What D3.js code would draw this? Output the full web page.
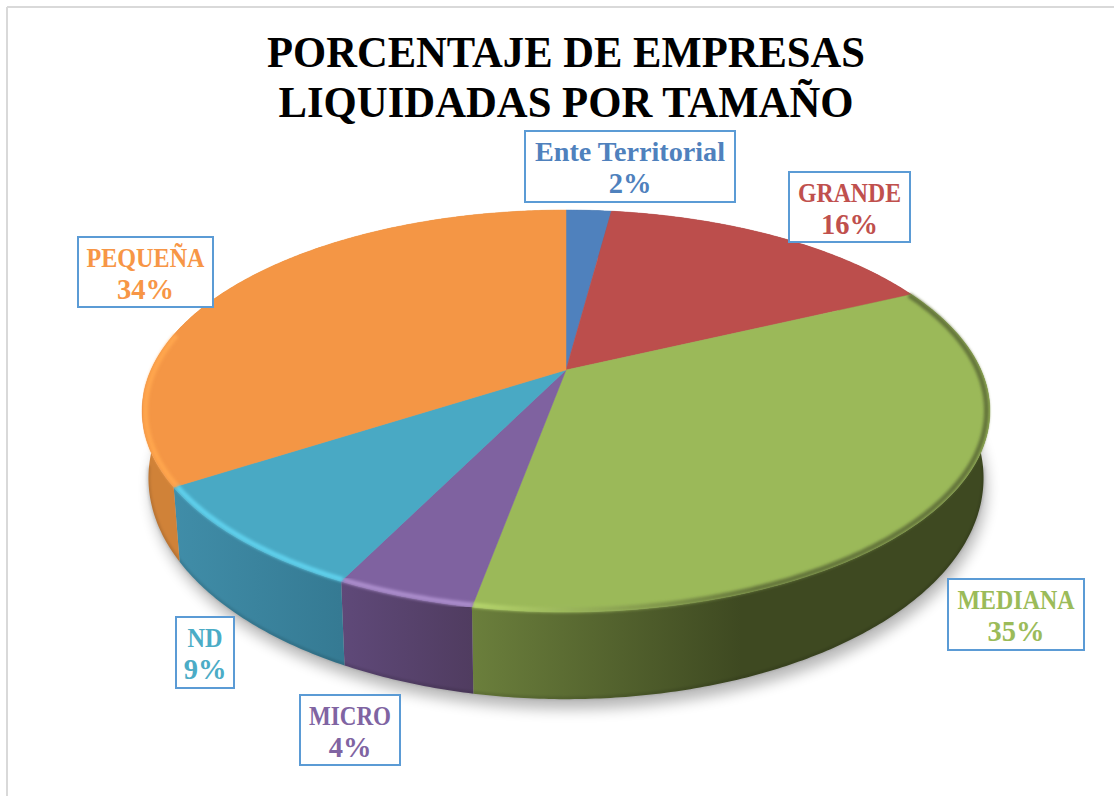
<!DOCTYPE html>
<html>
<head>
<meta charset="utf-8">
<script src="https://cdn.jsdelivr.net/npm/d3@7"></script>
<style>
html, body { margin: 0; padding: 0; background: #fff; }
svg { display: block; }
</style>
</head>
<body>
<div id="chart"></div>
<script>
// data, unrounded shares estimated from the slice edges
var categories = ["Ente Territorial", "GRANDE", "MEDIANA", "MICRO", "ND", "PEQUEÑA"];
var percents = [2.1, 15.9, 34.9, 4.4, 8.6, 34.1];
var titleLines = ["PORCENTAJE DE EMPRESAS", "LIQUIDADAS POR TAMAÑO"];

// colours, same order as categories
var topColors = ["#4f81bd", "#bc4e4c", "#9bb959", "#7f62a0", "#49a9c4", "#f49645"];
var textColors = ["#4f81bd", "#c0504d", "#9bbb59", "#8064a2", "#4bacc6", "#f79646"];
var sideLeft = ["#3c6290", "#8f3b39", "#6b7f3c", "#5f4979", "#408da8", "#d08238"];
var sideRight = ["#3c6290", "#8f3b39", "#3e4921", "#503c60", "#357a93", "#d08238"];
var rimLeft = ["#4f81bd", "#bc4e4c", "#b6d66c", "#ab8dcc", "#5fd0ec", "#ffa64e"];
var rimRight = ["#4f81bd", "#bc4e4c", "#64753a", "#ab8dcc", "#5fd0ec", "#ffa64e"];

// label boxes: left, top, right, bottom
var labelBoxes = [
	[525, 131, 735, 202],
	[789, 172, 910, 242],
	[948, 579, 1084, 650],
	[300, 695, 400, 765],
	[176, 617, 234, 688],
	[78, 237, 213, 307]
];
// the original face is narrower in capitals than Liberation Serif, so fit the widths
var labelTextWidths = [190, 103, 117, 82, 35, 118];
var titleTextWidths = [598, 575];

var width = 1114, height = 796;

var svg = d3.select("#chart").append("svg")
	.attr("width", width)
	.attr("height", height);

var defs = svg.append("defs");
defs.append("filter").attr("id", "shadowBlur")
	.attr("x", "-10%").attr("y", "-10%").attr("width", "120%").attr("height", "120%")
	.append("feGaussianBlur").attr("stdDeviation", 7);
defs.append("filter").attr("id", "rimBlur")
	.attr("x", "-5%").attr("y", "-5%").attr("width", "110%").attr("height", "110%")
	.append("feGaussianBlur").attr("stdDeviation", 1.6);

// chart frame, only top and left show
svg.append("line").attr("x1", 7).attr("y1", 7).attr("x2", width).attr("y2", 7)
	.attr("stroke", "#d9d9d9").attr("stroke-width", 2);
svg.append("line").attr("x1", 7).attr("y1", 7).attr("x2", 7).attr("y2", height)
	.attr("stroke", "#d9d9d9").attr("stroke-width", 2);

// title
svg.append("g").selectAll("text")
	.data(titleLines)
	.enter().append("text")
	.attr("x", 566)
	.attr("y", function (d, i) { return 67 + i * 50; })
	.attr("text-anchor", "middle")
	.attr("font-family", "'Liberation Serif', serif")
	.attr("font-weight", "bold")
	.attr("font-size", 45)
	.attr("textLength", function (d, i) { return titleTextWidths[i]; })
	.attr("lengthAdjust", "spacingAndGlyphs")
	.attr("fill", "#000")
	.text(function (d) { return d; });

// perspective projection of the disc, a = clockwise angle from the back of the pie
var cx = 566, cy = 370, rx = 415, ry = 192.6, persp = 0.204;

function projectTop(a) {
	var w = 1 + persp * Math.cos(a);
	return [cx + rx * Math.sin(a) / w, cy - ry * Math.cos(a) / w];
}
function projectBottom(a) {
	var p = projectTop(a);
	return [cx + (p[0] - cx) * 0.985, cy + 63 + (p[1] - cy) * 1.1];
}
function arcPoints(a0, a1, project) {
	var n = Math.max(2, Math.ceil((a1 - a0) / 0.01));
	return d3.range(n + 1).map(function (i) {
		return project(a0 + (a1 - a0) * i / n);
	});
}

var pie = d3.pie().sort(null).value(function (d) { return d; }).startAngle(0).endAngle(2 * Math.PI);
var slices = pie(percents);
var line = d3.line();

// soft shadow under the disc
svg.append("path")
	.attr("d", line(arcPoints(0, 2 * Math.PI, projectBottom)) + "Z")
	.attr("transform", "translate(3,10)")
	.attr("fill", "#000")
	.attr("opacity", 0.28)
	.attr("filter", "url(#shadowBlur)");

function gradient(id, x0, x1, c0, c1, mid) {
	var g = defs.append("linearGradient").attr("id", id)
		.attr("gradientUnits", "userSpaceOnUse")
		.attr("x1", x0).attr("x2", x1).attr("y1", 0).attr("y2", 0);
	g.append("stop").attr("offset", 0).attr("stop-color", c0);
	g.append("stop").attr("offset", mid).attr("stop-color", c1);
	g.append("stop").attr("offset", 1).attr("stop-color", c1);
}

// side walls
var sides = svg.append("g");
slices.forEach(function (d, i) {
	var top = arcPoints(d.startAngle, d.endAngle, projectTop);
	var bottom = arcPoints(d.startAngle, d.endAngle, projectBottom);
	var xs = top.map(function (p) { return p[0]; });
	// walls run from lit on the left to dark on the right
	gradient("side" + i, d3.min(xs), d3.max(xs), sideLeft[i], sideRight[i], i === 2 ? 0.52 : 1);
	sides.append("path")
		.attr("d", line(top.concat(bottom.reverse())) + "Z")
		.attr("fill", "url(#side" + i + ")");
});

// darker foot along the bottom edge
sides.append("path")
	.attr("d", line(arcPoints(Math.PI * 0.55, Math.PI * 1.45, function (a) {
		var p = projectBottom(a);
		return [p[0], p[1] - 1];
	})))
	.attr("fill", "none")
	.attr("stroke", "#000")
	.attr("stroke-opacity", 0.2)
	.attr("stroke-width", 2)
	.attr("filter", "url(#rimBlur)");

// top faces
var faces = svg.append("g");
slices.forEach(function (d, i) {
	var pts = [[cx, cy]].concat(arcPoints(d.startAngle, d.endAngle, projectTop));
	faces.append("path")
		.attr("d", line(pts) + "Z")
		.attr("fill", topColors[i])
		.attr("stroke", topColors[i])
		.attr("stroke-width", 0.5);
});

// bevel along the rim, stops on the left where the light runs out
var rims = svg.append("g");
slices.forEach(function (d, i) {
	if (i < 2) return;
	var pts = arcPoints(d.startAngle, Math.min(d.endAngle, Math.PI * 1.56), function (a) {
		var p = projectTop(a);
		return [cx + (p[0] - cx) * 0.992, cy + (p[1] - cy) * 0.992];
	});
	var xs = pts.map(function (p) { return p[0]; });
	gradient("rim" + i, d3.min(xs), d3.max(xs), rimLeft[i], rimRight[i], i === 2 ? 0.55 : 1);
	rims.append("path")
		.attr("d", line(pts))
		.attr("fill", "none")
		.attr("stroke", "url(#rim" + i + ")")
		.attr("stroke-width", 5)
		.attr("filter", "url(#rimBlur)");
});

// data labels
var labels = svg.append("g").selectAll("g")
	.data(slices)
	.enter().append("g");

labels.append("rect")
	.attr("x", function (d, i) { return labelBoxes[i][0]; })
	.attr("y", function (d, i) { return labelBoxes[i][1]; })
	.attr("width", function (d, i) { return labelBoxes[i][2] - labelBoxes[i][0]; })
	.attr("height", function (d, i) { return labelBoxes[i][3] - labelBoxes[i][1]; })
	.attr("fill", "#fff")
	.attr("stroke", "#5b9bd5")
	.attr("stroke-width", 2);

function addLabelLine(textFn, dy, size) {
	return labels.append("text")
		.attr("x", function (d, i) { return (labelBoxes[i][0] + labelBoxes[i][2]) / 2; })
		.attr("y", function (d, i) { return labelBoxes[i][1] + dy; })
		.attr("text-anchor", "middle")
		.attr("font-family", "'Liberation Serif', serif")
		.attr("font-weight", "bold")
		.attr("font-size", size)
		.attr("fill", function (d, i) { return textColors[i]; })
		.text(textFn);
}
addLabelLine(function (d, i) { return categories[i]; }, 30, 27)
	.attr("textLength", function (d, i) { return labelTextWidths[i]; })
	.attr("lengthAdjust", "spacingAndGlyphs");
addLabelLine(function (d) { return Math.round(d.value) + "%"; }, 62, 28.5);
</script>
</body>
</html>
